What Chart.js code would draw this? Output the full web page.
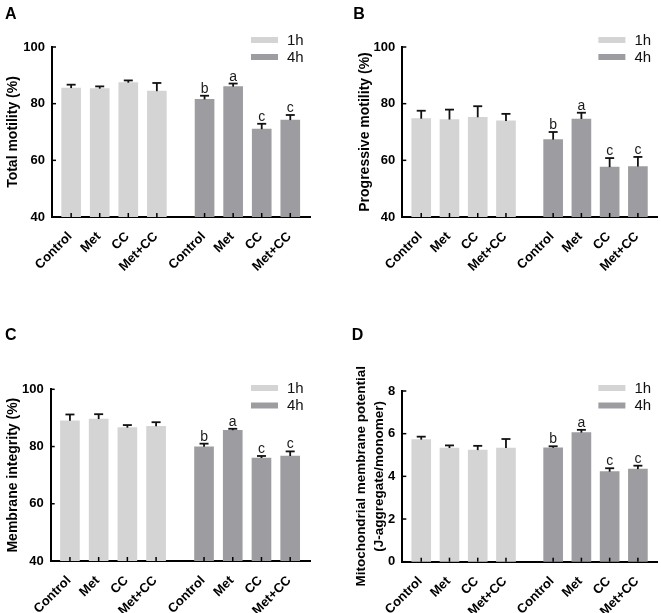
<!DOCTYPE html>
<html>
<head>
<meta charset="utf-8">
<script src="https://cdn.jsdelivr.net/npm/chart.js@4.4.1/dist/chart.umd.min.js"></script>
<style>
html,body{margin:0;padding:0;background:#fff;}
body{width:661px;height:613px;position:relative;overflow:hidden;}
canvas{position:absolute;}
</style>
</head>
<body>
<canvas id="cA" width="330" height="300" style="left:0;top:0"></canvas>
<canvas id="cB" width="331" height="300" style="left:330px;top:0"></canvas>
<canvas id="cC" width="330" height="313" style="left:0;top:300px"></canvas>
<canvas id="cD" width="331" height="313" style="left:330px;top:300px"></canvas>
<script>
// ---------------- DATA ----------------
const groups = ['Control', 'Met', 'CC', 'Met+CC'];
const times = ['1h', '4h'];

const totalMotility1h    = [85.5, 85.3, 87.4, 84.4];
const totalMotility1hErr = [1.2, 0.8, 0.8, 2.9];
const totalMotility4h    = [81.5, 86.0, 71.0, 74.2];
const totalMotility4hErr = [1.3, 1.1, 1.9, 1.8];
const totalMotility4hSig = ['b', 'a', 'c', 'c'];

const progressive1h    = [74.7, 74.4, 75.2, 73.9];
const progressive1hErr = [2.8, 3.5, 3.9, 2.5];
const progressive4h    = [67.3, 74.6, 57.6, 57.8];
const progressive4hErr = [2.7, 2.2, 3.2, 3.4];
const progressive4hSig = ['b', 'a', 'c', 'c'];

const membrane1h    = [89.0, 89.6, 86.6, 87.1];
const membrane1hErr = [2.2, 1.7, 0.9, 1.4];
const membrane4h    = [79.9, 85.7, 76.0, 76.7];
const membrane4hErr = [1.1, 0.5, 0.7, 1.6];
const membrane4hSig = ['b', 'a', 'c', 'c'];

const mmp1h    = [5.72, 5.33, 5.23, 5.33];
const mmp1hErr = [0.14, 0.12, 0.20, 0.42];
const mmp4h    = [5.34, 6.05, 4.22, 4.34];
const mmp4hErr = [0.07, 0.13, 0.16, 0.16];
const mmp4hSig = ['b', 'a', 'c', 'c'];

const percentTicks = [40, 60, 80, 100];
const ratioTicks = [0, 2, 4, 6, 8];

// ---------------- STYLE / LAYOUT ----------------
const FONT = "'Liberation Sans', Arial, Helvetica, sans-serif";
const COLOR_1H = '#d4d4d4';
const COLOR_4H = '#9d9da1';
const GROUP_GAP = 0.67;     // extra space between the two time groups (in category units)
const X_PAD_LEFT = 0.67;
const X_PAD_RIGHT = 0.69;

const panels = [
  { id: 'cA', letter: 'A', letterPos: [5, 18.5], W: 330, H: 300,
    plot: { l: 52, t: 47, r: 310, b: 217 },
    title: ['Total motility (%)'], titleSize: 14, titleX: 13.3,
    yTicks: percentTicks, legendY: [40, 57],
    s1: totalMotility1h, e1: totalMotility1hErr, s2: totalMotility4h, e2: totalMotility4hErr, sig: totalMotility4hSig },
  { id: 'cB', letter: 'B', letterPos: [23.3, 18.5], W: 331, H: 300,
    plot: { l: 72.3, t: 47, r: 330, b: 217 },
    title: ['Progressive motility (%)'], titleSize: 14, titleX: 35,
    yTicks: percentTicks, legendY: [40, 57],
    s1: progressive1h, e1: progressive1hErr, s2: progressive4h, e2: progressive4hErr, sig: progressive4hSig },
  { id: 'cC', letter: 'C', letterPos: [5, 39.5], W: 330, H: 313,
    plot: { l: 50.7, t: 89.3, r: 310, b: 261 },
    title: ['Membrane integrity (%)'], titleSize: 14, titleX: 13.3,
    yTicks: percentTicks, legendY: [88, 105.5],
    s1: membrane1h, e1: membrane1hErr, s2: membrane4h, e2: membrane4hErr, sig: membrane4hSig },
  { id: 'cD', letter: 'D', letterPos: [21.7, 40], W: 331, H: 313,
    plot: { l: 72.3, t: 91, r: 330, b: 261.7 },
    title: ['Mitochondrial membrane potential', '(J-aggregate/monomer)'], titleSize: 13.5, titleX: 31.7,
    yTicks: ratioTicks, legendY: [88, 105.5],
    s1: mmp1h, e1: mmp1hErr, s2: mmp4h, e2: mmp4hErr, sig: mmp4hSig }
];

function line(c, x1, y1, x2, y2) {
  c.beginPath(); c.moveTo(x1, y1); c.lineTo(x2, y2); c.stroke();
}

function makePanel(p) {
  const n = groups.length;
  const pos1 = groups.map((g, i) => i);
  const pos2 = groups.map((g, i) => n + GROUP_GAP + i);
  const allPos = pos1.concat(pos2);
  const allLabels = groups.concat(groups);
  const lh = 1.3;

  const extras = {
    id: 'extras' + p.id,
    afterDatasetsDraw(chart) {
      const c = chart.ctx, xS = chart.scales.x, yS = chart.scales.y, area = chart.chartArea;
      c.save();
      c.strokeStyle = '#000';
      c.lineWidth = 1.5;
      xS.ticks.forEach(t => { const px = xS.getPixelForValue(t.value); line(c, px, area.bottom, px, area.bottom - 4); });
      yS.ticks.forEach(t => { const py = yS.getPixelForValue(t.value); line(c, area.left, py, area.left + 4, py); });
      chart.data.datasets.forEach((ds, di) => {
        const meta = chart.getDatasetMeta(di);
        meta.data.forEach((bar, i) => {
          const v = ds.data[i].y, e = ds.errors[i];
          const yTop = yS.getPixelForValue(v), yCap = yS.getPixelForValue(v + e);
          c.strokeStyle = '#111';
          c.lineWidth = 1.8;
          line(c, bar.x, yTop, bar.x, yCap);
          line(c, bar.x - 4.5, yCap, bar.x + 4.5, yCap);
          if (ds.sig) {
            c.fillStyle = '#1a1a1a';
            c.font = '14px ' + FONT;
            c.textAlign = 'center';
            c.textBaseline = 'alphabetic';
            c.fillText(ds.sig[i], bar.x, yCap - 3);
          }
        });
      });
      c.restore();
    },
    afterDraw(chart) {
      const c = chart.ctx, area = chart.chartArea;
      c.save();
      chart.data.datasets.forEach((ds, di) => {
        const y = p.legendY[di];
        c.fillStyle = ds.backgroundColor;
        c.fillRect(area.right - 59, y - 3, 27, 6);
        c.fillStyle = '#111';
        c.font = '15px ' + FONT;
        c.textAlign = 'left';
        c.textBaseline = 'middle';
        c.fillText(ds.label, area.right - 23, y + 0.5);
      });
      c.fillStyle = '#000';
      c.font = 'bold 16px ' + FONT;
      c.textAlign = 'left';
      c.textBaseline = 'alphabetic';
      c.fillText(p.letter, p.letterPos[0], p.letterPos[1]);
      c.restore();
    }
  };

  return new Chart(document.getElementById(p.id), {
    type: 'bar',
    data: {
      datasets: [
        { label: times[0], data: p.s1.map((v, i) => ({ x: pos1[i], y: v })), errors: p.e1,
          backgroundColor: COLOR_1H, barThickness: 19, grouped: false, borderWidth: 0 },
        { label: times[1], data: p.s2.map((v, i) => ({ x: pos2[i], y: v })), errors: p.e2, sig: p.sig,
          backgroundColor: COLOR_4H, barThickness: 19, grouped: false, borderWidth: 0 }
      ]
    },
    options: {
      responsive: false,
      animation: false,
      devicePixelRatio: 1,
      layout: { padding: { left: 0, top: p.plot.t, right: p.W - p.plot.r, bottom: 0 } },
      plugins: { legend: { display: false }, tooltip: { enabled: false } },
      scales: {
        x: {
          type: 'linear',
          min: -X_PAD_LEFT,
          max: pos2[n - 1] + X_PAD_RIGHT,
          offset: false,
          afterBuildTicks: s => { s.ticks = allPos.map(v => ({ value: v })); },
          afterFit: s => { s.height = p.H - p.plot.b; },
          grid: { display: false, drawTicks: false },
          border: { display: true, color: '#000', width: 2 },
          ticks: {
            autoSkip: false, minRotation: 45, maxRotation: 45, padding: 12, labelOffset: -1,
            callback: (v, i) => allLabels[i],
            font: { family: FONT, size: 13, weight: 'bold' }, color: '#000'
          }
        },
        y: {
          min: p.yTicks[0],
          max: p.yTicks[p.yTicks.length - 1],
          afterBuildTicks: s => { s.ticks = p.yTicks.map(v => ({ value: v })); },
          afterFit: s => { s.width = p.plot.l; },
          grid: { display: false, drawTicks: false },
          border: { display: true, color: '#000', width: 2 },
          ticks: { padding: 7, font: { family: FONT, size: 13, weight: 'bold' }, color: '#000' },
          title: {
            display: true, text: p.title, color: '#000',
            font: { family: FONT, size: p.titleSize, weight: 'bold', lineHeight: lh },
            padding: { top: p.titleX - p.titleSize * lh / 2, bottom: 0 }
          }
        }
      }
    },
    plugins: [extras]
  });
}

panels.forEach(makePanel);
</script>
</body>
</html>
